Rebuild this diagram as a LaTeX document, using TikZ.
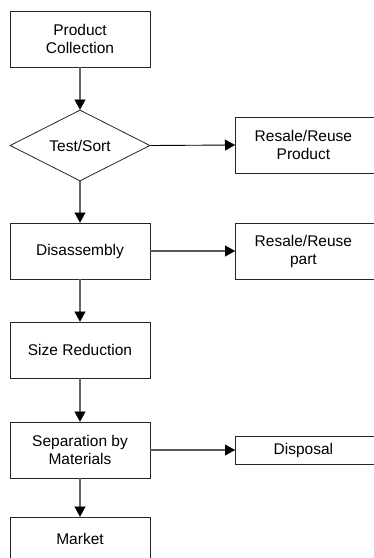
\documentclass[tikz,border=0pt]{standalone}
\usepackage{fontspec}
\setmainfont{Liberation Sans}
\usetikzlibrary{shapes.geometric,arrows.meta}
\begin{document}
\begin{tikzpicture}[x=1pt,y=-1pt,
  every node/.style={font=\fontsize{15.5}{18}\selectfont, align=center, inner sep=0pt},
  box/.style={draw=black!85, line width=0.8pt, minimum width=140pt, minimum height=56pt},
  rbox/.style={draw=black!85, line width=0.8pt, minimum width=150pt, minimum height=56pt},
  dbox/.style={draw=black!85, line width=0.8pt, minimum width=150pt, minimum height=28pt},
  dec/.style={draw=black!85, line width=0.8pt, diamond, aspect=2, minimum width=140pt, minimum height=71pt},
  tip/.style={-{Triangle[length=10pt,width=11pt,fill=black,color=black,line width=0.1pt]}},
  vflow/.style={draw=black!60, line width=1.6pt, tip},
  hflow/.style={draw=black, line width=0.9pt, tip},
  hflowg/.style={draw=black!65, line width=1.1pt, tip}
]
\useasboundingbox (0,0) rectangle (374,558);
\clip (0,0) rectangle (374,558);
\node[box] (pc) at (80,39) {Product\\Collection};
\node[dec] (ts) at (80,145.5) {};
\node at (80,145.5) {Test/Sort};
\node[rbox, anchor=west] (rp) at (235,145) {\hspace*{-14pt}Resale/Reuse\\\hspace*{-14pt}Product};
\node[box] (dis) at (80,251) {Disassembly};
\node[rbox, anchor=west] (rpt) at (235,251) {\hspace*{-14pt}Resale/Reuse\\\hspace*{-14pt}part};
\node[box] (sr) at (80,350) {Size Reduction};
\node[box] (sep) at (80,450) {Separation by\\Materials};
\node[dbox, anchor=west] (dsp) at (235,450) {\hspace*{-14pt}Disposal};
\node[box] (mk) at (80,545) {};
\node at (80,539) {Market};
\draw[vflow] (pc.south) -- (ts.north);
\draw[hflow] (ts.east) -- (rp.west);
\draw[vflow] (ts.south) -- (dis.north);
\draw[hflowg] (dis.east) -- (rpt.west);
\draw[vflow] (dis.south) -- (sr.north);
\draw[vflow] (sr.south) -- (sep.north);
\draw[hflowg] (sep.east) -- (dsp.west);
\draw[vflow] (sep.south) -- (mk.north);
\end{tikzpicture}
\end{document}
